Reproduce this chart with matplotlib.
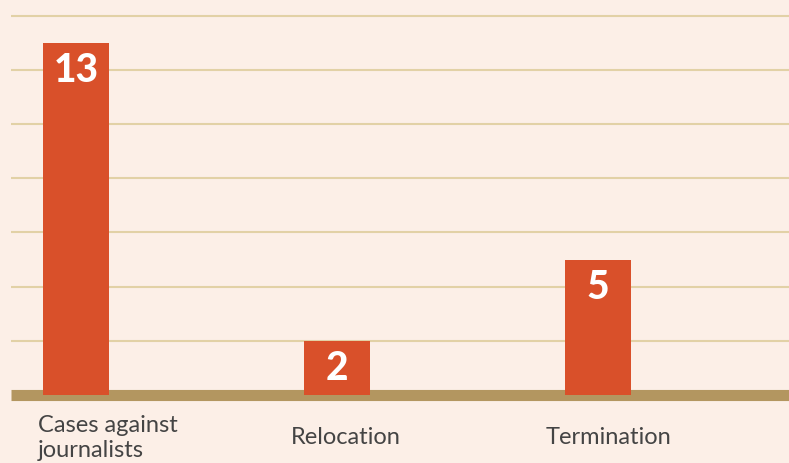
"""Bar chart: outcomes of press cases."""

import matplotlib
matplotlib.use('Agg')
import matplotlib.pyplot as plt
import matplotlib.transforms as mtransforms

CATEGORIES = ['Cases against\njournalists', 'Relocation', 'Termination']
VALUES = [13, 2, 5]
GRID_TICKS = [2, 4, 6, 8, 10, 12, 14]
# small horizontal nudges of category labels (pixels)
LABEL_SHIFT = [32, 9, 11]

BG = '#fcefe7'
BAR = '#d9502a'
GRID = '#e2d1a6'
BASE = '#b39660'
TEXT = '#444444'

plt.rcParams['font.family'] = ['Lato', 'DejaVu Sans']

fig = plt.figure(figsize=(7.89, 4.63), dpi=100, facecolor=BG)
# axes from x=11px to right edge, y from top to 395px
ax = fig.add_axes([11 / 789, (463 - 395) / 463, 778 / 789, 395 / 463])
ax.set_facecolor(BG)

xs = list(range(len(VALUES)))
ax.bar(xs, VALUES, width=0.253, color=BAR, zorder=3)

for y in GRID_TICKS:
    ax.axhline(y, color=GRID, lw=1.5, zorder=1)
ax.axhline(0, color=BASE, lw=8, zorder=2, clip_on=False,
           solid_capstyle='butt')

for x, v in zip(xs, VALUES):
    ax.annotate(str(v), (x, v), xytext=(0, -39), textcoords='offset pixels',
                ha='center', va='baseline', color='white',
                fontsize=28, fontweight='black')

trans = mtransforms.blended_transform_factory(ax.transData, ax.transAxes)
for x, lab, dx in zip(xs, CATEGORIES, LABEL_SHIFT):
    off = mtransforms.ScaledTranslation(dx / 100, 0, fig.dpi_scale_trans)
    ax.text(x, -43 / 395, lab, transform=trans + off, ha='center',
            va='center', multialignment='left', color=TEXT, fontsize=17,
            linespacing=1.2)

ax.set_xlim(-0.249, 2.732)
ax.set_ylim(0, 14.58)
ax.set_xticks([])
ax.set_yticks([])
for s in ax.spines.values():
    s.set_visible(False)

fig.savefig('out.png', dpi=100, facecolor=BG)
